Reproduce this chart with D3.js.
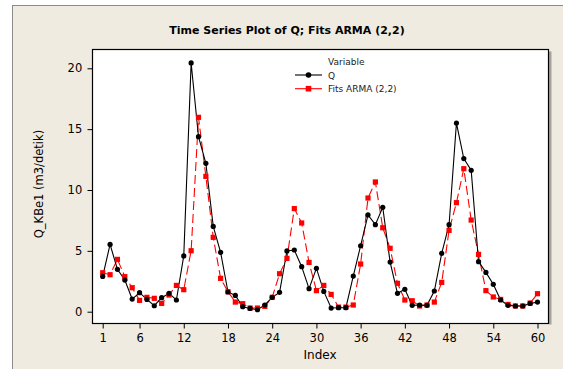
<!DOCTYPE html>
<html><head><meta charset="utf-8">
<script src="https://cdn.jsdelivr.net/npm/d3@7"></script>
<style>body{margin:0;background:#fff}svg{display:block}text{font-family:"DejaVu Sans",sans-serif}</style>
</head><body>
<svg id="c" width="563" height="369"></svg>
<script>
const qValues = [2.9,5.53,3.48,2.6,1.04,1.56,1.01,0.49,1.15,1.5,0.96,4.58,20.44,14.38,12.19,7.01,4.88,1.62,1.34,0.41,0.27,0.16,0.55,1.18,1.59,4.99,5.07,3.7,1.89,3.56,1.67,0.3,0.33,0.33,2.93,5.42,7.95,7.15,8.58,4.08,1.51,1.84,0.52,0.55,0.52,1.7,4.79,7.15,15.5,12.58,11.62,4.11,3.23,2.25,0.96,0.52,0.47,0.47,0.68,0.79];
const fitValues = [3.2,3.04,4.3,2.88,1.97,0.93,1.18,1.1,0.68,1.37,2.16,1.81,5.01,15.97,11.12,6.11,2.74,1.64,0.79,0.66,0.3,0.3,0.44,1.18,3.12,4.38,8.47,7.29,4.05,1.73,2.16,1.42,0.38,0.38,0.55,3.92,9.34,10.66,6.9,5.21,2.33,0.96,0.9,0.47,0.55,0.79,2.41,6.68,8.96,11.75,7.53,4.71,1.73,1.21,1.01,0.6,0.47,0.47,0.71,1.48];
const xTicks = [1,6,12,18,24,30,36,42,48,54,60];
const yTicks = [0,5,10,15,20];
const seriesNames = ["Q","Fits ARMA (2,2)"];
const titleText = "Time Series Plot of Q; Fits ARMA (2,2)";
const xLabel = "Index", yLabel = "Q_KBe1 (m3/detik)", legendTitle = "Variable";

const svg = d3.select("#c");
svg.append("rect").attr("x",12.5).attr("y",5.5).attr("width",600).attr("height",400)
  .attr("fill","#efebe1").attr("stroke","#8a8a8a").attr("stroke-width",1);

const L=92.5,T=49.5,R=548.5,B=323.5;
const x = d3.scaleLinear().domain([1,60]).range([102.7,537.5]);
const y = d3.scaleLinear().domain([0,20]).range([311.7,68.3]);

svg.append("rect").attr("x",R+0.5).attr("y",T+2).attr("width",2.5).attr("height",B-T-1).attr("fill","#a8a49c");
svg.append("rect").attr("x",L).attr("y",T).attr("width",R-L).attr("height",B-T)
  .attr("fill","#fff").attr("stroke","#000").attr("stroke-width",1.2);

const xAxis = d3.axisBottom(x).tickValues(xTicks).tickSize(5).tickSizeOuter(0);
const gx = svg.append("g").attr("transform",`translate(0,${B})`).call(xAxis);
gx.select(".domain").remove();
gx.selectAll("text").attr("font-size",11.5).attr("fill","#000").attr("dy","0.95em");
gx.selectAll("line").attr("stroke","#000");
const yAxis = d3.axisLeft(y).tickValues(yTicks).tickSize(5).tickSizeOuter(0);
const gy = svg.append("g").attr("transform",`translate(${L},0)`).call(yAxis);
gy.select(".domain").remove();
gy.selectAll("text").attr("font-size",11.5).attr("fill","#000").attr("dx","-0.2em");
gy.selectAll("line").attr("stroke","#000");

svg.append("text").attr("x",287).attr("y",34).attr("text-anchor","middle")
  .attr("font-size",11).attr("font-weight","bold").text(titleText);
svg.append("text").attr("x",(102.7+537.5)/2).attr("y",359).attr("text-anchor","middle")
  .attr("font-size",12).text(xLabel);
svg.append("text").attr("transform",`translate(43,${184}) rotate(-90)`).attr("text-anchor","middle")
  .attr("font-size",11.5).text(yLabel);

const line = d3.line().x((d,i)=>x(i+1)).y(d=>y(d));
svg.append("path").datum(fitValues).attr("d",line).attr("fill","none")
  .attr("stroke","#ff0000").attr("stroke-width",1.1).attr("stroke-dasharray","9,4");
svg.append("path").datum(qValues).attr("d",line).attr("fill","none")
  .attr("stroke","#000").attr("stroke-width",1.1);
svg.selectAll(".fm").data(fitValues).enter().append("rect")
  .attr("x",(d,i)=>x(i+1)-2.6).attr("y",d=>y(d)-2.6).attr("width",5.2).attr("height",5.2).attr("fill","#ff0000");
svg.selectAll(".qm").data(qValues).enter().append("circle")
  .attr("cx",(d,i)=>x(i+1)).attr("cy",d=>y(d)).attr("r",2.6).attr("fill","#000");

const lg = svg.append("g");
lg.append("text").attr("x",328).attr("y",65).attr("font-size",9).attr("fill","#222").text(legendTitle);
[0,1].forEach(k=>{
  const yy = 75 + k*13.7;
  lg.append("line").attr("x1",295).attr("x2",322).attr("y1",yy).attr("y2",yy)
    .attr("stroke",k? "#ff0000":"#000").attr("stroke-width",1.1);
  if(k) lg.append("rect").attr("x",308.5-2.8).attr("y",yy-2.8).attr("width",5.6).attr("height",5.6).attr("fill","#ff0000");
  else lg.append("circle").attr("cx",308.5).attr("cy",yy).attr("r",2.8).attr("fill","#000");
  lg.append("text").attr("x",328).attr("y",yy+3.5).attr("font-size",9).attr("fill","#222").text(seriesNames[k]);
});
</script>
</body></html>
